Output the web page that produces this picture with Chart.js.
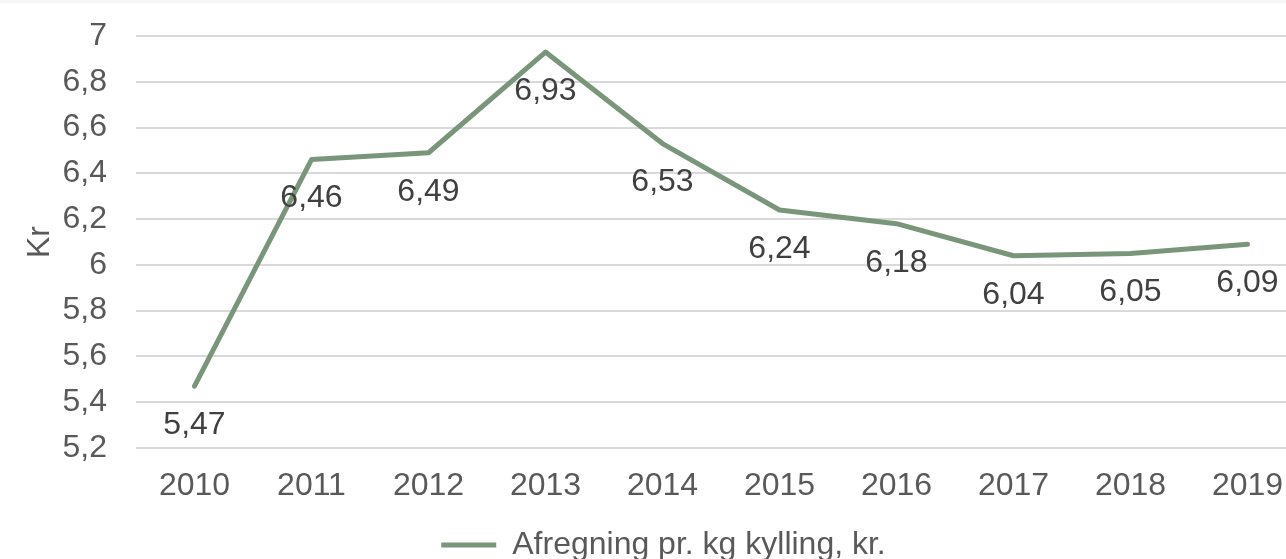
<!DOCTYPE html>
<html>
<head>
<meta charset="utf-8">
<script src="https://cdn.jsdelivr.net/npm/chart.js@4"></script>
<style>
  html, body { margin: 0; padding: 0; background: #fff; overflow: hidden; }
  #wrap { position: relative; width: 1286px; height: 559px; overflow: hidden; }
  #strip { position: absolute; left: 0; top: 0; width: 1286px; height: 3px; background: #f7f7f5; }
  canvas { position: absolute; left: 0; top: 0; }
</style>
</head>
<body>
<div id="wrap">
  <canvas id="chart" width="1339" height="559"></canvas>
  <div id="strip"></div>
</div>
<script>
// chart data
const years = ['2010', '2011', '2012', '2013', '2014', '2015', '2016', '2017', '2018', '2019'];
const prices = [5.47, 6.46, 6.49, 6.93, 6.53, 6.24, 6.18, 6.04, 6.05, 6.09];
const seriesName = 'Afregning pr. kg kylling, kr.';
const yTitle = 'Kr';

const green = '#7a967a';
const fontFamily = '"Liberation Sans", Arial, sans-serif';
const fontSize = 32;

const commaNum = (v, d) => (d === undefined ? String(Math.round(v * 10) / 10) : v.toFixed(d)).replace('.', ',');

// draws the value under every point
const valueLabels = {
  id: 'valueLabels',
  afterDatasetsDraw(chart) {
    const ctx = chart.ctx;
    const meta = chart.getDatasetMeta(0);
    ctx.save();
    ctx.font = fontSize + 'px ' + fontFamily;
    ctx.fillStyle = '#404040';
    ctx.textAlign = 'center';
    ctx.textBaseline = 'middle';
    meta.data.forEach((pt, i) => {
      ctx.fillText(commaNum(prices[i], 2), pt.x, pt.y + 39);
    });
    ctx.restore();
  }
};

const ctx = document.getElementById('chart').getContext('2d');
new Chart(ctx, {
  type: 'line',
  data: {
    labels: years,
    datasets: [{
      label: seriesName,
      data: prices,
      borderColor: green,
      backgroundColor: green,
      borderWidth: 5,
      borderCapStyle: 'round',
      borderJoinStyle: 'round',
      pointRadius: 0,
      pointHoverRadius: 0,
      tension: 0
    }]
  },
  options: {
    responsive: false,
    animation: false,
    layout: { padding: { left: 21, right: 33, top: 36, bottom: -12 } },
    plugins: {
      tooltip: { enabled: false },
      legend: {
        position: 'bottom',
        labels: {
          usePointStyle: true,
          pointStyle: 'line',
          pointStyleWidth: 55,
          padding: 0,
          color: '#595959',
          font: { family: fontFamily, size: fontSize, lineHeight: 1 }
        }
      }
    },
    scales: {
      x: {
        offset: true,
        grid: { display: false, drawTicks: false },
        border: { display: false },
        ticks: { color: '#595959', padding: 19, font: { family: fontFamily, size: fontSize } },
        afterFit(scale) {
          scale.height = 81;
          scale.paddingLeft = 0;
          scale.paddingRight = 0;
        }
      },
      y: {
        min: 5.2,
        max: 7,
        grid: { color: '#d9d9d9', lineWidth: 2, drawTicks: false },
        border: { display: false },
        ticks: {
          stepSize: 0.2,
          padding: 29,
          color: '#595959',
          font: { family: fontFamily, size: fontSize },
          callback: (v) => commaNum(v)
        },
        title: {
          display: true,
          text: yTitle,
          color: '#595959',
          padding: { top: 0, bottom: 0 },
          font: { family: fontFamily, size: fontSize }
        },
        afterFit(scale) {
          scale.width = 115;
          scale.paddingTop = 0;
          scale.paddingBottom = 0;
        }
      }
    }
  },
  plugins: [valueLabels]
});
</script>
</body>
</html>
